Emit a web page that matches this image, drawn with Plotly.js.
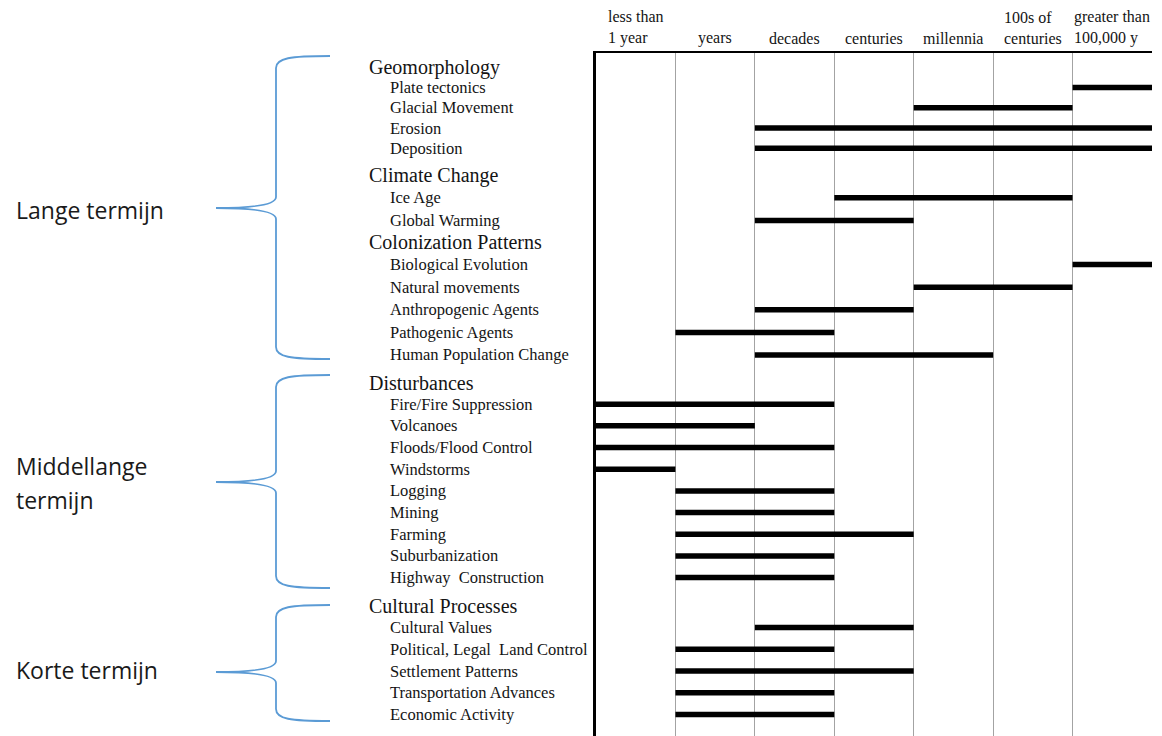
<!DOCTYPE html>
<html>
<head>
<meta charset="utf-8">
<script src="https://cdn.plot.ly/plotly-3.0.1.min.js"></script>
<style>html,body{margin:0;padding:0;background:#fff;}</style>
</head>
<body>
<div id="chart" style="width:1162px;height:736px"></div>
<script>
// ---- data ----
const columns = ['less than<br>1 year', 'years', 'decades', 'centuries', 'millennia', '100s of<br>centuries', 'greater than<br>100,000 y'];

const rows = [
  'Geomorphology', 'Plate tectonics', 'Glacial Movement', 'Erosion', 'Deposition',
  'Climate Change', 'Ice Age', 'Global Warming',
  'Colonization Patterns', 'Biological Evolution', 'Natural movements', 'Anthropogenic Agents', 'Pathogenic Agents', 'Human Population Change',
  'Disturbances', 'Fire/Fire Suppression', 'Volcanoes', 'Floods/Flood Control', 'Windstorms', 'Logging', 'Mining', 'Farming', 'Suburbanization', 'Highway  Construction',
  'Cultural Processes', 'Cultural Values', 'Political, Legal  Land Control', 'Settlement Patterns', 'Transportation Advances', 'Economic Activity'
];

const headerRows = ['Geomorphology', 'Climate Change', 'Colonization Patterns', 'Disturbances', 'Cultural Processes'];

// start / end of each bar, in time-scale columns (0 = "less than 1 year" left edge)
const startCol = [null, 6, 4, 2, 2, null, 3, 2, null, 6, 4, 2, 1, 2, null, 0, 0, 0, 0, 1, 1, 1, 1, 1, null, 2, 1, 1, 1, 1];
const endCol   = [null, 7, 6, 7, 7, null, 6, 4, null, 7, 6, 4, 3, 5, null, 3, 2, 3, 1, 3, 3, 4, 3, 3, null, 4, 3, 4, 3, 3];

const termLabels = ['Lange termijn', 'Middellange', 'termijn', 'Korte termijn'];

// ---- layout geometry (pixels) ----
const W = 1162, H = 736;
const PX = x => x / W;
const PY = y => 1 - y / H;
// one band per group: first-row centre, row step, band top and bottom
const bands = [
  {row0: 67.4, step: 20.2, top: 53, bottom: 161},
  {row0: 175.1, step: 22.75, top: 161, bottom: 231},
  {row0: 242.0, step: 22.6, top: 231, bottom: 368},
  {row0: 382.5, step: 21.68, top: 368, bottom: 592},
  {row0: 605.8, step: 21.74, top: 592, bottom: 736}
];
const barPx = 5.5;

// split rows into groups (a header row starts a new group)
const groups = [];
rows.forEach((r, i) => {
  if (headerRows.includes(r)) groups.push([]);
  groups[groups.length - 1].push(i);
});

const serif = 'Liberation Serif, Times New Roman, serif';
const traces = [];
const annotations = [];
const layout = {
  width: W, height: H,
  margin: {l: 0, r: 0, t: 0, b: 0, pad: 0},
  paper_bgcolor: '#fff', plot_bgcolor: '#fff',
  showlegend: false,
  xaxis: {
    domain: [596 / W, 1152 / W],
    range: [0, 7],
    side: 'top', anchor: 'y',
    showline: true, linecolor: '#000', linewidth: 2,
    tickmode: 'array', tickvals: [1, 2, 3, 4, 5, 6],
    showticklabels: false, ticks: '',
    showgrid: true, gridcolor: '#a3a3a3', gridwidth: 1.2,
    zeroline: false, fixedrange: true
  }
};

groups.forEach((idx, g) => {
  const b = bands[g];
  const yname = g === 0 ? 'y' : 'y' + (g + 1);
  const ykey = g === 0 ? 'yaxis' : 'yaxis' + (g + 1);
  const gRows = idx.map(i => rows[i]);
  traces.push({
    type: 'bar', orientation: 'h', xaxis: 'x', yaxis: yname,
    y: gRows,
    x: idx.map(i => (endCol[i] == null ? null : endCol[i] - startCol[i])),
    base: idx.map(i => startCol[i]),
    width: barPx / b.step,
    marker: {color: '#000', line: {width: 0}},
    hoverinfo: 'skip', showlegend: false
  });
  layout[ykey] = {
    domain: [PY(b.bottom), PY(b.top)],
    anchor: 'x',
    type: 'category', categoryorder: 'array', categoryarray: gRows,
    range: [(b.bottom - b.row0) / b.step, (b.top - b.row0) / b.step],
    showline: true, linecolor: '#000', linewidth: 3,
    showticklabels: false, ticks: '', showgrid: false, zeroline: false, fixedrange: true
  };
  idx.forEach(i => {
    const r = rows[i];
    const isH = headerRows.includes(r);
    annotations.push({
      text: r.replace(/  /g, ' \u00a0'), xref: 'paper', x: PX(isH ? 367 : 388), yref: yname, y: r,
      xanchor: 'left', yanchor: 'middle', showarrow: false,
      font: {family: serif, size: isH ? 20 : 16.5, color: '#141414'}
    });
  });
});

// column headers
columns.forEach((c, i) => {
  annotations.push({
    text: c, xref: 'x', x: i + 0.5, yref: 'paper', y: PY(49),
    xanchor: 'center', yanchor: 'bottom', align: 'left', showarrow: false,
    font: {family: serif, size: 16, color: '#141414'}
  });
});

// term labels
const termPos = [210, 466, 500, 670];
termLabels.forEach((t, i) => {
  annotations.push({
    text: t, xref: 'paper', x: PX(14), yref: 'paper', y: PY(termPos[i]),
    xanchor: 'left', yanchor: 'middle', showarrow: false,
    font: {family: 'Open Sans, Lato, sans-serif', size: 23, color: '#1a1a1a'}
  });
});

// braces
function brace(top, tip, bottom) {
  const xR = 330, xV = 276, xT = 216;
  const p = (x, y) => PX(x).toFixed(5) + ' ' + PY(y).toFixed(5);
  return 'M ' + p(xR, top) +
    ' C ' + p(xV + 14, top) + ', ' + p(xV, top + 2) + ', ' + p(xV, top + 12) +
    ' L ' + p(xV, tip - 11) +
    ' C ' + p(xV, tip - 3) + ', ' + p(xV - 22, tip) + ', ' + p(xT, tip) +
    ' C ' + p(xV - 22, tip) + ', ' + p(xV, tip + 3) + ', ' + p(xV, tip + 11) +
    ' L ' + p(xV, bottom - 12) +
    ' C ' + p(xV, bottom - 2) + ', ' + p(xV + 14, bottom) + ', ' + p(xR, bottom);
}
const braceColor = '#5b9bd5';
layout.shapes = [
  [56, 208, 359], [375, 482, 588], [605, 672, 721]
].map(b => ({
  type: 'path', xref: 'paper', yref: 'paper', path: brace(b[0], b[1], b[2]),
  line: {color: braceColor, width: 1.8}
}));
layout.annotations = annotations;

Plotly.newPlot('chart', traces, layout, {displayModeBar: false, staticPlot: true});
</script>
</body>
</html>
